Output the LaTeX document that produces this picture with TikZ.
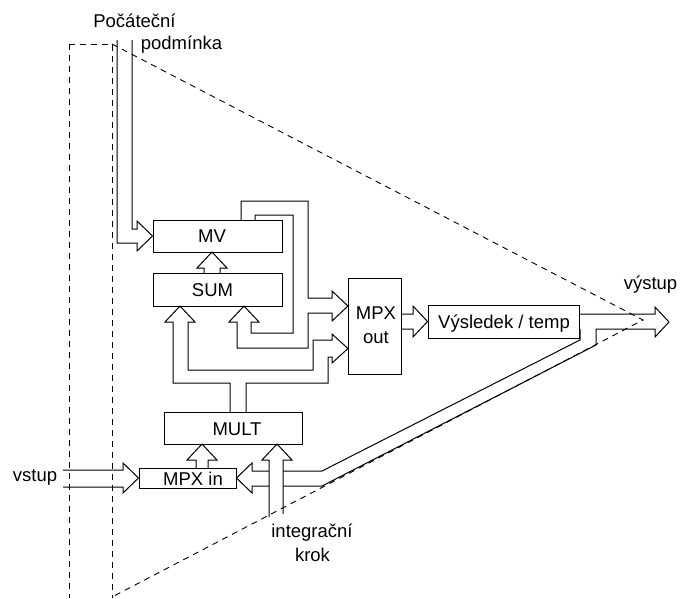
\documentclass[tikz,border=0pt]{standalone}
\usepackage{fontspec}
\setmainfont{Liberation Sans}
\begin{document}
\begin{tikzpicture}[x=1pt,y=-1pt,line width=1pt,line join=miter,
  box/.style={draw,rectangle,inner sep=0pt},
  lbl/.style={anchor=base,inner sep=0pt,font=\fontsize{18.5}{23}\selectfont},
  frame/.style={dash pattern=on 6pt off 5pt,line width=0.9pt},
  blk/.style={draw,line width=1pt}]
\useasboundingbox (0,0) rectangle (680,598);

% boxes
\node[box,minimum width=129pt,minimum height=32pt] (mv) at (217.5,236) {};
\node[box,minimum width=129pt,minimum height=33pt] (sum) at (217.5,289.5) {};
\node[box,minimum width=53pt,minimum height=96pt] (mpxout) at (374.5,326) {};
\node[box,minimum width=151pt,minimum height=33pt] (vys) at (503.5,321.5) {};
\node[box,minimum width=138pt,minimum height=32pt] (mult) at (233,428) {};
\node[box,minimum width=97pt,minimum height=20pt] (mpxin) at (187.5,478) {};

% box texts
\node[lbl] (tmv) at (212,242.3) {MV};
\node[lbl] (tsum) at (212.5,296.5) {SUM};
\node[lbl] (tmult) at (237,435) {MULT};
\node[lbl] (tmpxin) at (193,485) {MPX in};
\node[lbl] (tmpx) at (376,319) {MPX};
\node[lbl] (tout) at (376,343.5) {out};
\node[lbl] (tvys) at (504,328) {Výsledek / temp};

% outer labels
\node[lbl] (poc) at (134.5,27) {Počáteční};
\node[lbl] (podm) at (181.5,49.5) {podmínka};
\node[lbl] (vystup) at (650.5,289) {výstup};
\node[lbl] (vstup) at (35,481) {vstup};
\node[lbl] (integ) at (312,537) {integrační};
\node[lbl] (krok) at (312.5,561) {krok};

% initial condition -> MV
\draw[blk] (117,40) -- (117,243) -- (137,243) -- (137,251) -- (mv.west)
  -- (137,221) -- (137,229) -- (132,229) -- (132,40);

% SUM -> MV
\draw[blk] (204,273) -- (204,268) -- (197,268) -- (212,252) -- (227,268)
  -- (220,268) -- (220,273);

% MV -> MPX out (upper) and back to SUM (right input)
\draw[blk] (241,220) -- (241,201) -- (308,201) -- (308,298) -- (332,298)
  -- (332,291) -- (348,306) -- (332,321) -- (332,313) -- (308,313)
  -- (308,348) -- (237,348) -- (237,322) -- (229,322) -- (244,306)
  -- (259,322) -- (251,322) -- (251,333) -- (293,333) -- (293,215)
  -- (255,215) -- (255,220);

% MULT -> SUM (left input) and MPX out (lower)
\draw[blk] (230,412) -- (230,383) -- (173,383) -- (173,322) -- (165,322)
  -- (180,306) -- (195,322) -- (188,322) -- (188,370) -- (313,370)
  -- (313,340) -- (332,340) -- (332,334) -- (348,348.5) -- (332,363)
  -- (332,357) -- (328,357) -- (328,383) -- (246,383) -- (246,412);

% MPX out -> Vysledek
\draw[blk] (401,314) -- (413,314) -- (413,306) -- (vys.west) -- (413,337)
  -- (413,329) -- (401,329);

% Vysledek -> vystup, feedback -> MPX in
\draw[blk] (579,314) -- (655,314) -- (655,307) -- (669,322) -- (655,337)
  -- (655,329) -- (596,329) -- (596,345) -- (322,486) -- (252,486)
  -- (252,493) -- (mpxin.east) -- (252,463) -- (252,471) -- (322,471)
  -- (580,340) -- (580,329);

% MPX in -> MULT
\draw[blk] (196,468) -- (196,460) -- (187,460) -- (202,444) -- (217,460)
  -- (208,460) -- (208,468);

% vstup -> MPX in
\draw[blk] (63,470) -- (123,470) -- (123,463) -- (mpxin.west) -- (123,493)
  -- (123,487) -- (63,487);

% integracni krok -> MULT
\filldraw[blk,fill=white] (269,517) -- (269,460) -- (262,460) -- (277,444)
  -- (292,460) -- (283,460) -- (283,514);

% dashed frame
\draw[frame] (69,44) -- (69,598);
\draw[frame] (69,44) -- (112,44) -- (112,598);
\draw[frame] (112,44) -- (643,320) -- (112,597);
\end{tikzpicture}
\end{document}
